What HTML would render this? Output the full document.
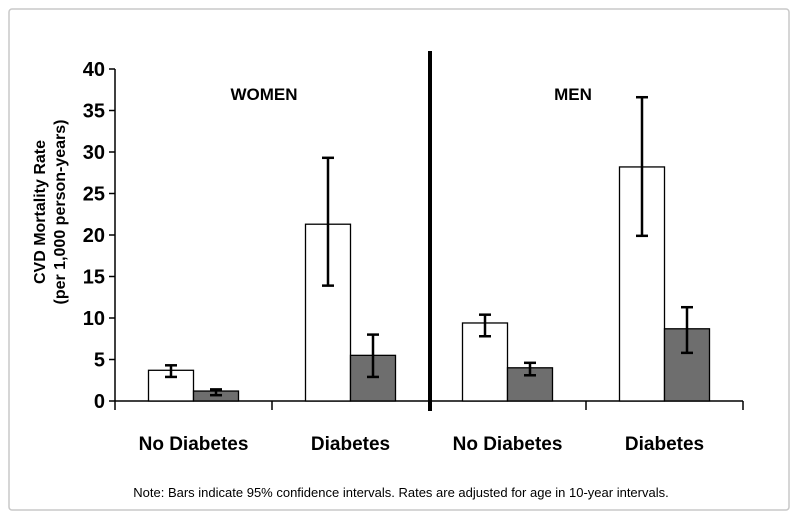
<!DOCTYPE html>
<html><head><meta charset="utf-8"><style>
body{margin:0;background:#fff;}
svg{display:block;font-family:"Liberation Sans",Arial,sans-serif;}
</style></head><body>
<svg id="chart" width="800" height="520">
<rect x="9" y="9" width="780" height="501" fill="#fff" stroke="#c8c8c8" stroke-width="1.5" rx="3"/>
<g id="axes"></g>
<g id="bars"></g>
<line x1="430" y1="51" x2="430" y2="411" stroke="#000" stroke-width="4"/>
<text x="264" y="100" font-size="17" font-weight="bold" text-anchor="middle">WOMEN</text>
<text x="573" y="100" font-size="17" font-weight="bold" text-anchor="middle">MEN</text>
<text transform="translate(45,212) rotate(-90)" font-size="16" font-weight="bold" text-anchor="middle"><tspan x="0" dy="0">CVD Mortality Rate</tspan><tspan x="0" dy="20">(per 1,000 person-years)</tspan></text>
<text x="401" y="497" font-size="13" text-anchor="middle">Note:  Bars indicate 95% confidence intervals.  Rates are adjusted for age in 10-year intervals.</text>
</svg>
<script>
const categories = ["No Diabetes","Diabetes","No Diabetes","Diabetes"];
const whiteValues = [3.7, 21.3, 9.4, 28.2];
const whiteLow = [2.9, 13.9, 7.8, 19.9];
const whiteHigh = [4.3, 29.3, 10.4, 36.6];
const greyValues = [1.2, 5.5, 4.0, 8.7];
const greyLow = [0.7, 2.9, 3.1, 5.8];
const greyHigh = [1.4, 8.0, 4.6, 11.3];
const yTicks = [0,5,10,15,20,25,30,35,40];

const NS="http://www.w3.org/2000/svg";
const y0=401, yTop=69, yMax=40;
function y(v){return y0-(v/yMax)*(y0-yTop);}
const xLeft=115, catW=157;
function catX(i){return xLeft+catW*i+catW/2;}
function mk(tag,attrs,parent){const e=document.createElementNS(NS,tag);for(const k in attrs)e.setAttribute(k,attrs[k]);parent.appendChild(e);return e;}
const axes=document.getElementById('axes'), bars=document.getElementById('bars');

let yl=mk('line',{x1:xLeft,y1:y(yMax),x2:xLeft,y2:y0,stroke:'#000','stroke-width':1.5},axes);


let xl=mk('line',{x1:xLeft,y1:y0,x2:xLeft+catW*4,y2:y0,stroke:'#000','stroke-width':1.5},axes);


yTicks.forEach(t=>{
  let l=mk('line',{x1:xLeft-6,y1:y(t),x2:xLeft,y2:y(t),stroke:'#000','stroke-width':1.5},axes);
  
  
  let tx=mk('text',{x:xLeft-10,y:y(t)+7,'font-size':20,'font-weight':'bold','text-anchor':'end'},axes);
  tx.textContent=t;
  
  
});
for(let i=0;i<=4;i++){
  let l=mk('line',{x1:xLeft+catW*i,y1:y0,x2:xLeft+catW*i,y2:y0+9,stroke:'#000','stroke-width':1.5},axes);
  
  
}
categories.forEach((c,i)=>{
  let tx=mk('text',{x:catX(i),y:450,'font-size':19,'font-weight':'bold','text-anchor':'middle'},axes);
  tx.textContent=c;
  
  
});
const bw=45;
function drawBar(i,v,lo,hi,fill,off,name){
  const x=catX(i)+off;
  let r=mk('rect',{x:x,y:y(v),width:bw,height:y0-y(v),fill:fill,stroke:'#000','stroke-width':1.3},bars);
  
  
  const cx=x+bw/2;
  let g=mk('g',{stroke:'#000','stroke-width':2.5},bars);
  
  
  mk('line',{x1:cx,y1:y(hi),x2:cx,y2:y(lo)},g);
  mk('line',{x1:cx-6,y1:y(hi),x2:cx+6,y2:y(hi)},g);
  mk('line',{x1:cx-6,y1:y(lo),x2:cx+6,y2:y(lo)},g);
}
categories.forEach((c,i)=>{
  drawBar(i,whiteValues[i],whiteLow[i],whiteHigh[i],'#fff',-bw,'bar-white');
  drawBar(i,greyValues[i],greyLow[i],greyHigh[i],'#6e6e6e',0,'bar-grey');
});
</script>
</body></html>
